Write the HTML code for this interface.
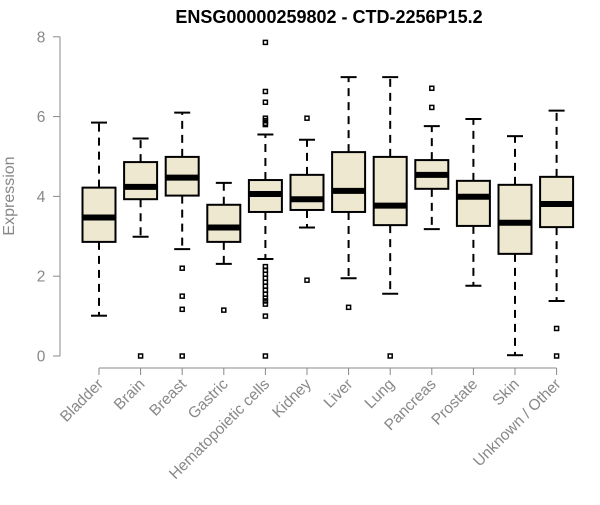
<!DOCTYPE html>
<html><head><meta charset="utf-8"><style>body{margin:0;background:#fff}svg{font-family:"Liberation Sans",sans-serif}</style></head>
<body>
<svg id="c" width="600" height="500"></svg>
<script>
const categories=["Bladder","Brain","Breast","Gastric","Hematopoietic cells","Kidney","Liver","Lung","Pancreas","Prostate","Skin","Unknown / Other"];
const whiskerLow=[1.01,2.99,2.68,2.31,2.43,3.22,1.95,1.56,3.18,1.76,0.02,1.38];
const q1=[2.86,3.93,4.02,2.86,3.61,3.66,3.61,3.28,4.19,3.26,2.56,3.23];
const medians=[3.47,4.24,4.47,3.22,4.06,3.93,4.14,3.77,4.54,3.99,3.34,3.81];
const q3=[4.22,4.86,4.99,3.79,4.41,4.54,5.11,4.99,4.91,4.39,4.29,4.49];
const whiskerHigh=[5.85,5.45,6.1,4.34,5.55,5.42,6.99,6.99,5.76,5.94,5.51,6.15];
const outliers=[[],[0],[2.2,1.5,1.17,0],[1.15],[7.86,6.63,6.36,5.96,5.9,5.83,5.8,2.24,2.15,2.05,1.95,1.85,1.75,1.65,1.55,1.45,1.38,1.3,1.0,0],[5.96,1.9],[1.22],[0],[6.71,6.23],[],[],[0.69,0]];
const yTicks=[0,2,4,6,8];
const NS="http://www.w3.org/2000/svg",svg=document.getElementById('c');
const y=v=>356-v*39.9, x=i=>99+41.6*i;
function mk(t,a,p){const e=document.createElementNS(NS,t);for(const k in a)e.setAttribute(k,a[k]);(p||svg).appendChild(e);return e;}
let t=mk('text',{x:329,y:23,'text-anchor':'middle','font-weight':'bold','font-size':18,fill:'#000'});t.textContent="ENSG00000259802 - CTD-2256P15.2";

t=mk('text',{x:14,y:196,'text-anchor':'middle','font-size':16,fill:'#888',transform:'rotate(-90 14 196)'});t.textContent="Expression";

const ya=mk('g',{stroke:'#888','stroke-width':1});
mk('line',{x1:60,x2:60,y1:y(8),y2:y(0)},ya);
yTicks.forEach(v=>{mk('line',{x1:53,x2:60,y1:y(v),y2:y(v)},ya);
 const l=mk('text',{x:41,y:y(v)+5.5,'text-anchor':'middle','font-size':15.5,fill:'#888',stroke:'none'});l.textContent=v;
 });
const xa=mk('g',{stroke:'#888','stroke-width':1});
mk('line',{x1:x(0),x2:x(11),y1:368,y2:368},xa);
categories.forEach((c,i)=>{const cx=x(i);
 mk('line',{x1:cx,x2:cx,y1:368,y2:375},xa);
 const l=mk('text',{x:cx+5,y:385,'text-anchor':'end','font-size':15.5,fill:'#888',stroke:'none',transform:`rotate(-45 ${cx+5} 385)`});l.textContent=c;
 
 const g=mk('g',{stroke:'#000'});
 mk('line',{x1:cx,x2:cx,y1:y(q3[i]),y2:y(whiskerHigh[i]),'stroke-width':2,'stroke-dasharray':'8,6'},g);
 mk('line',{x1:cx,x2:cx,y1:y(q1[i]),y2:y(whiskerLow[i]),'stroke-width':2,'stroke-dasharray':'8,6'},g);
 mk('line',{x1:cx-8,x2:cx+8,y1:y(whiskerHigh[i]),y2:y(whiskerHigh[i]),'stroke-width':2},g);
 mk('line',{x1:cx-8,x2:cx+8,y1:y(whiskerLow[i]),y2:y(whiskerLow[i]),'stroke-width':2},g);
 mk('rect',{x:cx-16.5,y:y(q3[i]),width:33,height:y(q1[i])-y(q3[i]),fill:'#ede8cf','stroke-width':2},g);
 mk('line',{x1:cx-16.5,x2:cx+16.5,y1:y(medians[i]),y2:y(medians[i]),'stroke-width':6},g);
 outliers[i].forEach(v=>{const o=mk('rect',{x:cx-2,y:y(v)-2,width:4,height:4,fill:'none','stroke-width':1.5},g);
  });
});
</script>
</body></html>
